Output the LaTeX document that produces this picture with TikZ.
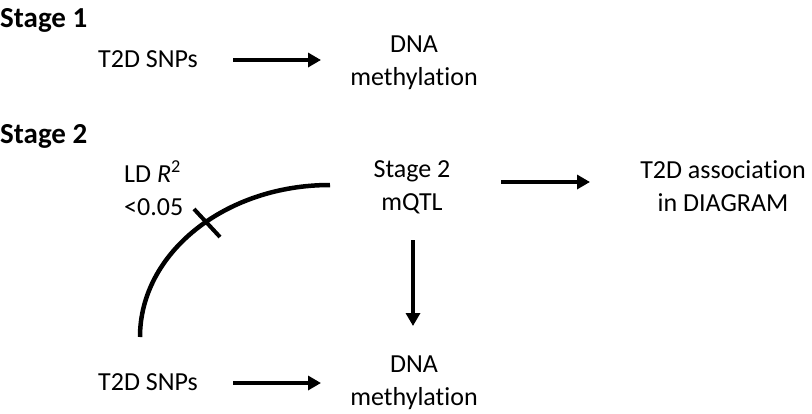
\documentclass[tikz,border=0pt]{standalone}
\usepackage{fontspec}
\setmainfont{Carlito}[RawFeature=-liga]
\usetikzlibrary{arrows.meta}
\tikzset{
  lbl/.style={inner sep=0pt, anchor=base, font=\fontsize{26}{33.5}\selectfont},
  hdr/.style={inner sep=0pt, anchor=base west, font=\fontsize{29}{34}\selectfont\bfseries},
  arr/.style={line width=4pt, -{Triangle[length=13pt,width=14pt]}},
  curve/.style={line width=4.5pt},
}
\newcommand{\twol}[2]{\begin{tabular}[t]{@{}c@{}}#1\\#2\end{tabular}}
\newcommand{\twoll}[2]{\begin{tabular}[t]{@{}l@{}}#1\\#2\end{tabular}}
\begin{document}
\begin{tikzpicture}[x=1pt,y=-1pt]
\useasboundingbox (0,0) rectangle (812,413);
% headers
\node[hdr] (s1) at (0,27) {Stage 1};
\node[hdr] (s2) at (0,143) {Stage 2};
% stage 1
\node[lbl] (snp1) at (148,67) {T2D SNPs};
\node[lbl] (dna1) at (414,52) {\twol{DNA}{methylation}};
\coordinate (a1s) at (233,60);
\coordinate (a1e) at (321,60);
\draw[arr] (a1s) -- (a1e);
% stage 2
\node[lbl] (mqtl) at (412,177) {\twol{Stage 2}{mQTL}};
\node[lbl] (assoc) at (723,178) {\twol{T2D association}{in DIAGRAM}};
\node[lbl, anchor=base west] (ld) at (124,182) {\twoll{LD {\itshape R}\textsuperscript{2}}{<0.05}};
\node[lbl] (snp2) at (148,390) {T2D SNPs};
\node[lbl] (dna2) at (414,372) {\twol{DNA}{methylation}};
\coordinate (a2s) at (501,182);
\coordinate (a2e) at (590,182);
\draw[arr] (a2s) -- (a2e);
\coordinate (a3s) at (233,383);
\coordinate (a3e) at (321,383);
\draw[arr] (a3s) -- (a3e);
\coordinate (a4s) at (413,240);
\coordinate (a4e) at (413,326);
\draw[arr] (a4s) -- (a4e);
% arc
\coordinate (arcs) at (330,185);
\draw[curve] (arcs) arc[start angle=-90, end angle=-180, x radius=190, y radius=152] coordinate (arce);
\coordinate (t1) at (194,209);
\coordinate (t2) at (220,237);
\draw[line width=4pt] (t1) -- (t2);
\end{tikzpicture}
\end{document}
